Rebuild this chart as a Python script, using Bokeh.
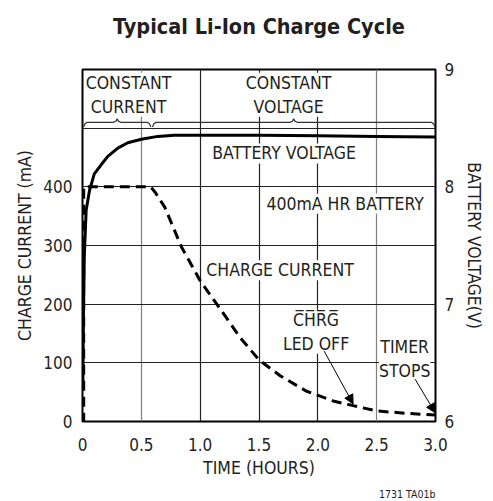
from bokeh.plotting import figure
from bokeh.models import (Range1d, LinearAxis, FixedTicker, Grid, Label, Arrow,
                          NormalHead, Title, CustomJSTickFormatter)
from bokeh.embed import file_html
from bokeh.resources import INLINE

FONT = "DejaVu Sans Condensed"

# ---------------- data ----------------
title_text = "Typical Li-Ion Charge Cycle"
x_ticks = [0.0, 0.5, 1.0, 1.5, 2.0, 2.5, 3.0]
x_tick_labels = ["0", "0.5", "1.0", "1.5", "2.0", "2.5", "3.0"]
current_ticks = [0, 100, 200, 300, 400]
voltage_ticks = [6, 7, 8, 9]
grid_dark = [1.0, 1.5, 2.0]
grid_gray = [0.5, 2.5]
grid_h = [100, 200, 300, 400, 500]

time_current = [0.0, 0.01, 0.01, 0.58, 0.62, 0.70, 0.84, 1.0, 1.17, 1.34, 1.5,
                1.68, 1.9, 2.13, 2.3, 2.5, 2.75, 3.0]
charge_current = [0, 0, 400, 400, 390, 365, 298, 240, 192, 143, 105,
                  78, 52, 35, 27, 18, 14, 11]

time_voltage = [0.003, 0.008, 0.015, 0.031, 0.06, 0.10, 0.16, 0.215, 0.30,
                0.385, 0.50, 0.64, 0.78, 1.0, 1.5, 2.0, 2.5, 3.0]
battery_voltage = [6.33, 6.9, 7.4, 7.8, 7.97, 8.11, 8.19, 8.26, 8.33,
                   8.376, 8.405, 8.43, 8.44, 8.44, 8.44, 8.435, 8.43, 8.425]

phase_bounds = [0.0, 0.585, 3.0]

# ---------------- figure ----------------
p = figure(frame_width=353, frame_height=352, x_range=Range1d(0, 3),
           y_range=Range1d(0, 600), output_backend="svg", toolbar_location=None,
           min_border_left=82, min_border_right=55, min_border_top=69,
           min_border_bottom=78, background_fill_color="white",
           border_fill_color="white", title=None)
p.outline_line_color = "black"
p.outline_line_width = 2
p.outline_line_alpha = 1

# spacer nearest the frame, then the title further up
p.add_layout(Title(text=" ", text_font_size="1px", standoff=16), "above")
p.add_layout(Title(text=title_text, align="center", text_font=FONT,
                   text_font_size="21.5px", text_font_style="bold",
                   text_color="#231f20", standoff=23), "above")

p.xgrid.visible = False
p.ygrid.visible = False
for gticks, col in ((grid_dark, "#222222"), (grid_gray, "#808080")):
    p.add_layout(Grid(dimension=0, ticker=FixedTicker(ticks=gticks),
                      grid_line_color=col, grid_line_width=1.2))
p.add_layout(Grid(dimension=1, ticker=FixedTicker(ticks=grid_h),
                  grid_line_color="#222222", grid_line_width=1.2))

p.extra_y_ranges = {"v": Range1d(6, 9)}
raxis = LinearAxis(y_range_name="v", ticker=FixedTicker(ticks=voltage_ticks),
                   axis_label="BATTERY VOLTAGE(V)")
p.add_layout(raxis, "right")

p.xaxis.ticker = FixedTicker(ticks=x_ticks)
p.xaxis.formatter = CustomJSTickFormatter(
    args=dict(xt=x_ticks, xl=x_tick_labels),
    code="const i = xt.indexOf(tick); return i >= 0 ? xl[i] : '';")
p.xaxis.axis_label = "TIME (HOURS)"
p.yaxis[0].ticker = FixedTicker(ticks=current_ticks)
p.yaxis[0].axis_label = "CHARGE CURRENT (mA)"

for ax in [p.xaxis[0], p.yaxis[0], raxis]:
    ax.axis_line_color = None
    ax.major_tick_line_color = None
    ax.minor_tick_line_color = None
    ax.major_tick_out = 0
    ax.major_tick_in = 0
    ax.major_label_text_font = FONT
    ax.major_label_text_font_size = "17px"
    ax.major_label_text_color = "#231f20"
    ax.axis_label_text_font = FONT
    ax.axis_label_text_font_size = "17.5px"
    ax.axis_label_text_font_style = "normal"
    ax.axis_label_text_color = "#231f20"
p.xaxis.major_label_standoff = 16
p.xaxis.axis_label_standoff = 4
p.yaxis[0].major_label_standoff = 10
p.yaxis[0].axis_label_standoff = 5
raxis.major_label_standoff = 9
raxis.axis_label_standoff = 7

# ---------------- curves ----------------
p.line(time_current, charge_current, line_color="black", line_width=3,
       line_dash="10 6")
p.line(time_voltage, battery_voltage, y_range_name="v", line_color="black",
       line_width=3)

# braces over the phases
def brace(t0, t1, y=510.0):
    mid = (t0 + t1) / 2
    xs = [t0, t0 + 0.01, t0 + 0.03, mid - 0.03, mid - 0.01, mid,
          mid + 0.01, mid + 0.03, t1 - 0.03, t1 - 0.01, t1]
    ys = [y - 8, y - 3, y, y, y + 2, y + 6, y + 2, y, y, y - 3, y - 8]
    return xs, ys

for t0, t1 in zip(phase_bounds[:-1], phase_bounds[1:]):
    bx, by = brace(t0 + 0.01, t1 - 0.005)
    p.line(bx, by, line_color="#333333", line_width=1.2)

# ---------------- annotations ----------------
def lab(x, y, text):
    l = Label(x=x, y=y, text=text, text_font=FONT, text_font_size="17.5px",
              text_color="#231f20", text_align="center", text_baseline="middle",
              background_fill_color="white", background_fill_alpha=1.0,
              text_line_height=1.2)
    p.add_layout(l)
    return l

lab(0.391, 557, "CONSTANT\nCURRENT")
lab(1.752, 557, "CONSTANT\nVOLTAGE")
lab(1.713, 457, "BATTERY VOLTAGE")
lab(2.232, 371, "400mA HR BATTERY")
lab(1.679, 258, "CHARGE CURRENT")
lab(1.985, 153, "C\u0305H\u0305R\u0305G\u0305\nLED OFF")
lab(2.738, 106, "TIMER\nSTOPS")

for xs, ys, xe, ye in [(2.054, 120, 2.30, 30), (2.827, 72, 2.997, 15)]:
    p.add_layout(Arrow(x_start=xs, y_start=ys, x_end=xe, y_end=ye,
                       line_width=1, line_color="black",
                       end=NormalHead(size=9, fill_color="black",
                                      line_color="black")))

p.add_layout(Title(text="1731 TA01b", align="right", text_font=FONT,
                   text_font_size="10.5px", text_font_style="normal",
                   text_color="#231f20"), "below")

open("out.html", "w").write(file_html(p, INLINE))
